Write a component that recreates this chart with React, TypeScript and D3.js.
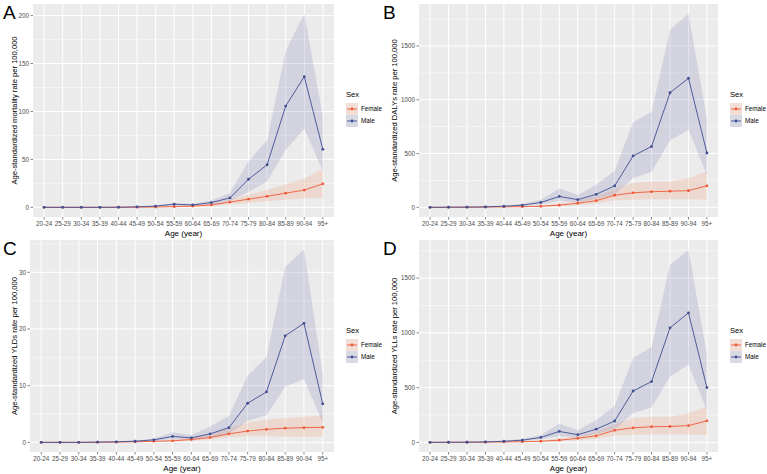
import React, { useRef, useEffect } from 'react';
import * as d3 from 'd3';

// age groups on the x axis
const ageGroups = ['20-24', '25-29', '30-34', '35-39', '40-44', '45-49', '50-54', '55-59', '60-64', '65-69', '70-74', '75-79', '80-84', '85-89', '90-94', '95+'];

// A: mortality
const mortMale = [0, 0, 0, 0, 0.1, 0.5, 1.3, 3.2, 2.5, 5, 9.8, 29.3, 44.4, 105.6, 136.3, 60.5];
const mortMaleUpper = [0, 0, 0, 0.1, 0.2, 0.8, 2, 4.5, 3.5, 7, 15, 48, 70, 163, 202, 95];
const mortMaleLower = [0, 0, 0, 0, 0.05, 0.3, 0.8, 2, 1.6, 3.2, 6.5, 16, 27, 60, 82, 38];
const mortFemale = [0, 0, 0, 0, 0.05, 0.1, 0.3, 0.7, 1.3, 2.5, 5.5, 8.5, 11.5, 14.8, 18, 24.5];
const mortFemaleUpper = [0, 0, 0, 0.05, 0.1, 0.2, 0.5, 1.2, 2.2, 4, 8, 13, 18, 24, 30, 40];
const mortFemaleLower = [0, 0, 0, 0, 0, 0.05, 0.15, 0.4, 0.7, 1.4, 3.2, 4.5, 6.5, 8, 9.5, 10];

// B: DALYs
const dalyMale = [0, 1, 2, 4, 10, 20, 45, 101, 71, 121, 199, 478, 565, 1065, 1200, 505];
const dalyMaleUpper = [0, 2, 4, 7, 16, 32, 70, 175, 115, 210, 340, 790, 885, 1650, 1800, 820];
const dalyMaleLower = [0, 0.5, 1, 2, 6, 13, 28, 60, 44, 78, 120, 270, 330, 620, 720, 298];
const dalyFemale = [0, 0.5, 1, 2, 4, 6, 10, 20, 38, 62, 112, 135, 145, 150, 155, 200];
const dalyFemaleUpper = [0, 1, 2, 3, 7, 10, 18, 35, 60, 100, 170, 225, 240, 240, 270, 335];
const dalyFemaleLower = [0, 0.2, 0.5, 1, 2, 3, 5, 10, 20, 35, 65, 70, 75, 75, 75, 70];

// C: YLDs
const yldMale = [0, 0, 0, 0.05, 0.1, 0.2, 0.45, 1.05, 0.8, 1.5, 2.6, 6.9, 8.9, 18.8, 21, 6.8];
const yldMaleUpper = [0, 0, 0.02, 0.08, 0.15, 0.35, 0.7, 1.8, 1.3, 2.8, 4.6, 11.8, 15, 31, 34, 12];
const yldMaleLower = [0, 0, 0, 0.02, 0.05, 0.1, 0.25, 0.6, 0.5, 0.9, 1.5, 3.8, 4.8, 9.8, 11.2, 3.5];
const yldFemale = [0, 0, 0, 0.02, 0.05, 0.1, 0.18, 0.28, 0.5, 0.85, 1.5, 2, 2.3, 2.5, 2.6, 2.65];
const yldFemaleUpper = [0, 0, 0.02, 0.04, 0.08, 0.15, 0.3, 0.45, 0.8, 1.4, 2.5, 3.5, 4, 4.3, 4.5, 4.8];
const yldFemaleLower = [0, 0, 0, 0, 0.02, 0.05, 0.1, 0.15, 0.3, 0.5, 0.9, 1.1, 1.1, 1, 1, 1];

// D: YLLs
const yllMale = [0, 1, 2, 4, 10, 20, 45, 100, 70, 120, 195, 469, 555, 1046, 1183, 500];
const yllMaleUpper = [0, 2, 4, 7, 16, 30, 68, 170, 110, 205, 335, 770, 870, 1620, 1760, 800];
const yllMaleLower = [0, 0.5, 1, 2, 6, 13, 28, 58, 42, 78, 118, 265, 320, 600, 710, 290];
const yllFemale = [0, 0.5, 1, 2, 4, 6, 10, 20, 37, 60, 110, 133, 143, 145, 153, 197];
const yllFemaleUpper = [0, 1, 2, 3, 7, 10, 17, 33, 58, 95, 165, 220, 235, 235, 265, 325];
const yllFemaleLower = [0, 0.2, 0.5, 1, 2, 3, 5, 10, 19, 33, 62, 68, 72, 72, 72, 68];

const femaleColor = '#EE5A38';
const maleColor = '#414E91';
const femaleFill = 'rgba(246,140,100,0.2)';
const maleFill = 'rgba(80,90,160,0.16)';

const panels = [
  { letter: 'A', yLabel: 'Age-standardized mortality rate per 100,000', ticks: [0, 50, 100, 150, 200], left: 33, right: 334, top: 4, bottom: 217, ox: 0, oy: 0,
    male: mortMale, maleUp: mortMaleUpper, maleLo: mortMaleLower, female: mortFemale, femaleUp: mortFemaleUpper, femaleLo: mortFemaleLower },
  { letter: 'B', yLabel: "Age-standardized DALYs rate per 100,000", ticks: [0, 500, 1000, 1500], left: 419, right: 718, top: 4, bottom: 217, ox: 380, oy: 0,
    male: dalyMale, maleUp: dalyMaleUpper, maleLo: dalyMaleLower, female: dalyFemale, femaleUp: dalyFemaleUpper, femaleLo: dalyFemaleLower },
  { letter: 'C', yLabel: 'Age-standardized YLDs rate per 100,000', ticks: [0, 10, 20, 30], left: 30, right: 334, top: 240, bottom: 452, ox: 0, oy: 236,
    male: yldMale, maleUp: yldMaleUpper, maleLo: yldMaleLower, female: yldFemale, femaleUp: yldFemaleUpper, femaleLo: yldFemaleLower },
  { letter: 'D', yLabel: 'Age-standardized YLLs rate per 100,000', ticks: [0, 500, 1000, 1500], left: 419, right: 718, top: 240, bottom: 452, ox: 380, oy: 236,
    male: yllMale, maleUp: yllMaleUpper, maleLo: yllMaleLower, female: yllFemale, femaleUp: yllFemaleUpper, femaleLo: yllFemaleLower },
];

const App = () => {
  const svgRef = useRef<SVGSVGElement>(null);

  useEffect(() => {
    const svg = d3.select(svgRef.current);
    svg.selectAll('*').remove();

    panels.forEach(p => {
      const g = svg.append('g');
      const maxVal = d3.max(p.maleUp)!;

      const x = d3.scalePoint<string>().domain(ageGroups).range([p.left, p.right]).padding(0.6);
      const y = d3.scaleLinear().domain([-0.05 * maxVal, 1.05 * maxVal]).range([p.bottom, p.top]);

      // panel background
      g.append('rect')
        .attr('x', p.left).attr('y', p.top)
        .attr('width', p.right - p.left).attr('height', p.bottom - p.top)
        .attr('fill', '#EBEBEB');

      // minor grid
      const step = p.ticks[1] - p.ticks[0];
      const minor = [p.ticks[0] - step / 2, ...p.ticks.map(t => t + step / 2)].filter(v => y(v) >= p.top && y(v) <= p.bottom);
      g.selectAll('.minor').data(minor).enter().append('line')
        .attr('x1', p.left).attr('x2', p.right)
        .attr('y1', d => y(d)).attr('y2', d => y(d))
        .attr('stroke', '#fff').attr('stroke-width', 0.5);

      // major grid
      g.selectAll('.major').data(p.ticks).enter().append('line')
        .attr('x1', p.left).attr('x2', p.right)
        .attr('y1', d => y(d)).attr('y2', d => y(d))
        .attr('stroke', '#fff').attr('stroke-width', 1);
      g.selectAll('.xgrid').data(ageGroups).enter().append('line')
        .attr('x1', d => x(d)!).attr('x2', d => x(d)!)
        .attr('y1', p.top).attr('y2', p.bottom)
        .attr('stroke', '#fff').attr('stroke-width', 1);

      // ribbons
      const area = (up: number[], lo: number[]) => d3.area<string>()
        .x(d => x(d)!)
        .y0((d, i) => y(lo[i]))
        .y1((d, i) => y(up[i]))(ageGroups);
      g.append('path').attr('d', area(p.femaleUp, p.femaleLo)!).attr('fill', femaleFill);
      g.append('path').attr('d', area(p.maleUp, p.maleLo)!).attr('fill', maleFill);

      // lines + points
      const line = (vals: number[]) => d3.line<string>().x(d => x(d)!).y((d, i) => y(vals[i]))(ageGroups);
      [[p.female, femaleColor], [p.male, maleColor]].forEach(([vals, color]: any) => {
        g.append('path').attr('d', line(vals)!).attr('fill', 'none')
          .attr('stroke', color).attr('stroke-width', 0.9);
        g.selectAll(null).data(ageGroups).enter().append('circle')
          .attr('cx', d => x(d)!).attr('cy', (d, i) => y(vals[i]))
          .attr('r', 1.4).attr('fill', color);
      });

      // y axis
      const yTicks = g.append('g');
      p.ticks.forEach(t => {
        yTicks.append('line').attr('x1', p.left - 2.5).attr('x2', p.left)
          .attr('y1', y(t)).attr('y2', y(t)).attr('stroke', '#333').attr('stroke-width', 0.6);
        yTicks.append('text').attr('x', p.left - 4).attr('y', y(t)).attr('dy', '0.35em')
          .attr('text-anchor', 'end').attr('font-size', 6.3).attr('fill', '#4D4D4D').text(t);
      });

      // x axis
      ageGroups.forEach(a => {
        g.append('line').attr('x1', x(a)!).attr('x2', x(a)!)
          .attr('y1', p.bottom).attr('y2', p.bottom + 2.5).attr('stroke', '#333').attr('stroke-width', 0.6);
        g.append('text').attr('x', x(a)!).attr('y', p.bottom + 9)
          .attr('text-anchor', 'middle').attr('font-size', 6.3).attr('fill', '#4D4D4D')
          .text(a);
      });

      g.append('text').attr('x', (p.left + p.right) / 2).attr('y', p.bottom + 19)
        .attr('text-anchor', 'middle').attr('font-size', 8).attr('fill', '#000').text('Age (year)');

      g.append('text')
        .attr('transform', `translate(${p.ox + 17},${(p.top + p.bottom) / 2}) rotate(-90)`)
        .attr('text-anchor', 'middle').attr('font-size', 7.6).attr('fill', '#000')
        .text(p.yLabel);

      // panel letter
      g.append('text').attr('x', p.ox + 3).attr('y', p.oy + 19)
        .attr('font-size', 19).attr('fill', '#000').text(p.letter);

      // legend
      const lx = p.right + 12;
      const ly = p.top + 93;
      g.append('text').attr('x', lx).attr('y', ly).attr('font-size', 7.6).attr('fill', '#000').text('Sex');
      [['Female', femaleColor, femaleFill], ['Male', maleColor, maleFill]].forEach(([name, color, fill], i) => {
        const ky = ly + 6 + i * 12;
        g.append('rect').attr('x', lx).attr('y', ky).attr('width', 12).attr('height', 12).attr('fill', '#F2F2F2');
        g.append('rect').attr('x', lx).attr('y', ky).attr('width', 12).attr('height', 12).attr('fill', fill);
        g.append('line').attr('x1', lx + 1).attr('x2', lx + 11).attr('y1', ky + 6).attr('y2', ky + 6)
          .attr('stroke', color).attr('stroke-width', 0.9);
        g.append('circle').attr('cx', lx + 6).attr('cy', ky + 6).attr('r', 1.4).attr('fill', color);
        g.append('text').attr('x', lx + 15).attr('y', ky + 6).attr('dy', '0.35em')
          .attr('font-size', 6.3).attr('fill', '#000').text(name);
      });
    });
  }, []);

  return (
    <svg ref={svgRef} width={767} height={474}
      style={{ position: 'absolute', left: 0, top: 0, fontFamily: 'Liberation Sans, Arial, sans-serif', background: '#fff' }} />
  );
};

export default App;
